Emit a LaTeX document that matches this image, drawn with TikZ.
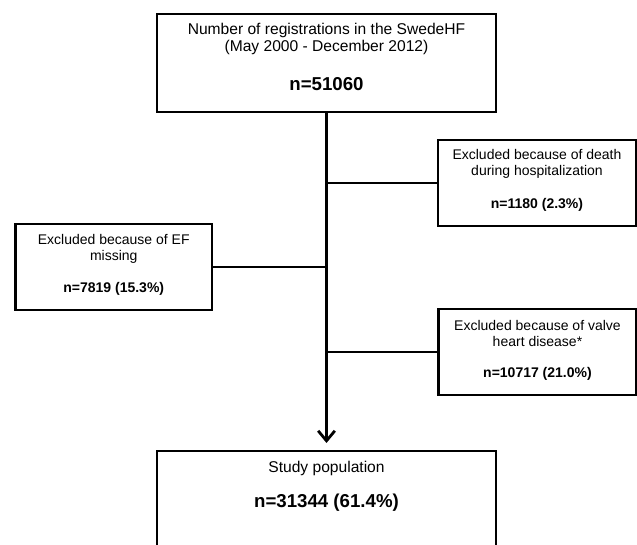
\documentclass[tikz,border=0pt]{standalone}
\usepackage{fontspec}
\setmainfont{Liberation Sans}
\usetikzlibrary{arrows.meta}

\begin{document}
\begin{tikzpicture}[
    x=0.75pt, y=-0.75pt,
    box/.style={draw, line width=2.1pt, inner sep=0pt, outer sep=0pt},
    mainBox/.style={box, minimum width=254.25pt, minimum height=73.5pt},
    exclBox/.style={box, minimum width=148.5pt, minimum height=64.5pt},
    bigText/.style={font=\fontsize{11.7}{13.2}\selectfont, align=center},
    bigNum/.style={font=\fontsize{14}{16}\selectfont\bfseries},
    smallText/.style={font=\fontsize{10.5}{11.8}\selectfont, align=center},
    smallNum/.style={font=\fontsize{10.5}{12}\selectfont\bfseries},
    line/.style={line width=2.1pt},
    arrow/.style={line, -{Straight Barb[length=7.5pt, width=12.5pt]}, shorten >=6pt}
]
    \useasboundingbox (0,0) rectangle (637,545);
    \clip (0,0) rectangle (637,545);

    % Boxes
    \node[mainBox] (regBox) at (326.5,63) {};
    \node[bigText] (regText) at (326.5,38.8) {Number of registrations in the SwedeHF\\(May 2000 - December 2012)};
    \node[bigNum] (regNum) at (326.5,84) {n=51060};

    \node[exclBox] (deathBox) at (537,183) {};
    \node[smallText] (deathText) at (537,164.2) {Excluded because of death\\during hospitalization};
    \node[smallNum] (deathNum) at (537,204.4) {n=1180 (2.3\%)};

    \node[exclBox, minimum width=147.4pt] (efBox) at (113.75,267) {};
    \node[smallText] (efText) at (113.75,249.2) {Excluded because of EF\\missing};
    \node[smallNum] (efNum) at (113.75,288.5) {n=7819 (15.3\%)};

    \node[exclBox] (valveBox) at (537.5,352) {};
    \node[smallText] (valveText) at (537.5,333.3) {Excluded because of valve\\heart disease*};
    \node[smallNum] (valveNum) at (537.5,373.6) {n=10717 (21.0\%)};

    \node[mainBox, minimum height=82.5pt] (studyBox) at (326.5,506) {};
    \node[bigText] (studyText) at (326.5,468) {Study population};
    \node[bigNum] (studyNum) at (326.5,503) {n=31344 (61.4\%)};

    % Connections
    \draw[arrow] (regBox.south) -- (studyBox.north);
    \draw[line] (regBox.south |- deathBox.west) -- (deathBox.west);
    \draw[line] (regBox.south |- efBox.east) -- (efBox.east);
    \draw[line] (regBox.south |- valveBox.west) -- (valveBox.west);
\end{tikzpicture}
\end{document}
